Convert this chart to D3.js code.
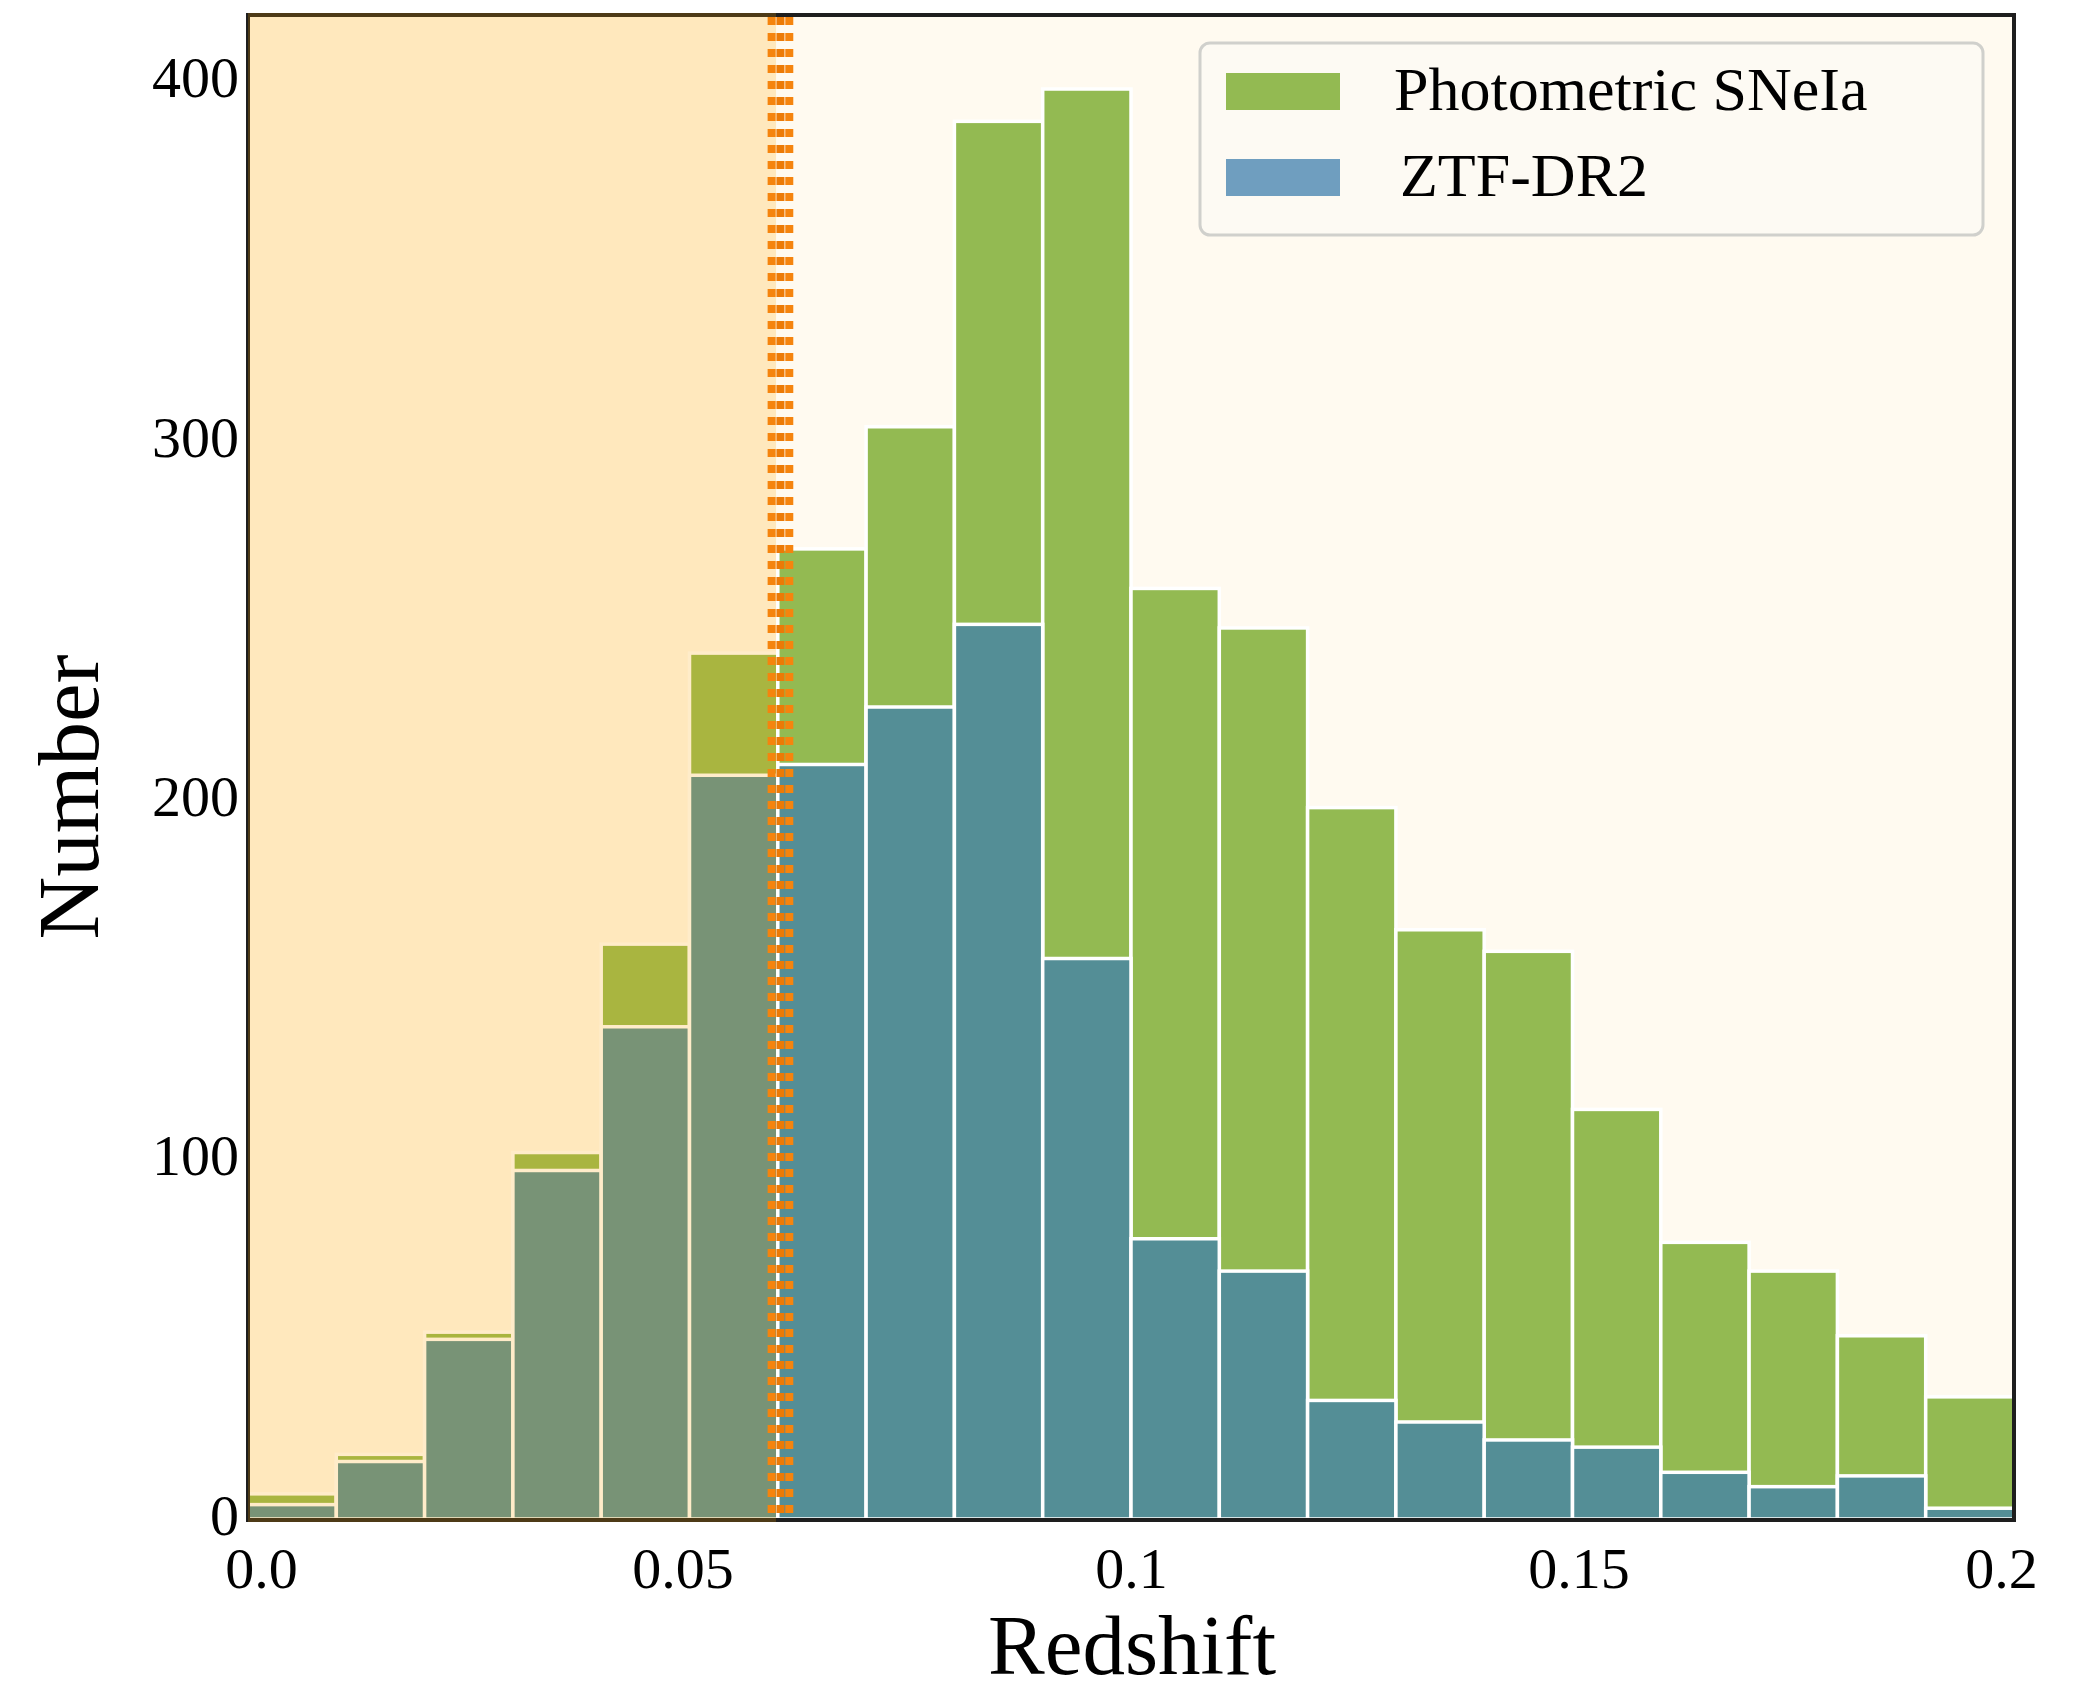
<!DOCTYPE html>
<html>
<head>
<meta charset="utf-8">
<script src="https://cdn.jsdelivr.net/npm/d3@7"></script>
<style>
  html, body { margin: 0; padding: 0; background: #ffffff; }
  svg { display: block; }
</style>
</head>
<body>
<svg id="chart" width="2095" height="1692"></svg>
<script>
// ---- data ----
const binEdges = [0.00,0.01,0.02,0.03,0.04,0.05,0.06,0.07,0.08,0.09,0.10,0.11,0.12,0.13,0.14,0.15,0.16,0.17,0.18,0.19,0.20];
const photometricCounts = [7,18,52,102,160,241,270,304,389,398,259,248,198,164,158,114,77,69,51,34];
const ztfCounts = [4,16,50,97,137,207,210,226,249,156,78,69,33,27,22,20,13,9,12,3];
const seriesNames = ["Photometric SNeIa", "ZTF-DR2"];
const xTickValues = [0, 0.05, 0.1, 0.15, 0.2];
const xTickLabels = ["0.0", "0.05", "0.1", "0.15", "0.2"];
const yTickValues = [0, 100, 200, 300, 400];
const bandRange = [0, 0.0598];
const cutLines = [0.0593, 0.0603, 0.0613];

// ---- layout ----
const svg = d3.select("#chart");
const L = 248, R = 2014, T = 15, B = 1519;
const x = d3.scaleLinear().domain([0, 0.2]).range([L, R]);
const y = d3.scaleLinear().domain([0, 418.6]).range([B, T]);
const font = "'Liberation Serif', 'Times New Roman', serif";

const colGreen = "#93ba52", colBlue = "#548e96", colBlueLegend = "#6f9ebf";

svg.append("defs").append("clipPath").attr("id", "plotclip")
  .append("rect").attr("x", L).attr("y", T).attr("width", R - L).attr("height", B - T);

// background
svg.append("rect").attr("x", L).attr("y", T).attr("width", R - L).attr("height", B - T)
  .attr("fill", "#fffaf0");

const g = svg.append("g").attr("clip-path", "url(#plotclip)");

const bins = photometricCounts.map((v, i) => ({x0: binEdges[i], x1: binEdges[i + 1], g: v, b: ztfCounts[i]}));

g.selectAll("rect.green").data(bins).join("rect").attr("class", "green")
  .attr("x", d => x(d.x0)).attr("width", d => x(d.x1) - x(d.x0))
  .attr("y", d => y(d.g)).attr("height", d => y(0) - y(d.g))
  .attr("fill", colGreen).attr("stroke", "#ffffff").attr("stroke-width", 3.5);

g.selectAll("rect.blue").data(bins).join("rect").attr("class", "blue")
  .attr("x", d => x(d.x0)).attr("width", d => x(d.x1) - x(d.x0))
  .attr("y", d => y(d.b)).attr("height", d => y(0) - y(d.b))
  .attr("fill", colBlue).attr("stroke", "#ffffff").attr("stroke-width", 3.5);

// frame
svg.append("rect").attr("x", L).attr("y", T).attr("width", R - L).attr("height", B + 1 - T)
  .attr("fill", "none").attr("stroke", "#1e1e1e").attr("stroke-width", 4);

// orange band (overlay)
svg.append("rect").attr("x", x(bandRange[0])).attr("y", T - 2)
  .attr("width", x(bandRange[1]) - x(bandRange[0])).attr("height", B - T + 5)
  .attr("fill", "#ffa500").attr("fill-opacity", 0.21);

// dotted cut lines
svg.selectAll("line.cut").data(cutLines).join("line").attr("class", "cut")
  .attr("x1", d => x(d)).attr("x2", d => x(d))
  .attr("y1", T + 2).attr("y2", B)
  .attr("stroke", (d, i) => i === 1 ? "#ec7a06" : "#f5840e")
  .attr("stroke-width", 8).attr("stroke-dasharray", "8 8");

// axes
const xLabelNudge = [13, -7, 0, 6, -13];
const xAxis = d3.axisBottom(x).tickValues(xTickValues).tickSize(0).tickPadding(28)
  .tickFormat((d, i) => xTickLabels[i]);
const gx = svg.append("g").attr("transform", `translate(0,${B})`).call(xAxis);
gx.select(".domain").remove();
gx.selectAll("text").attr("font-family", font).attr("font-size", 58).attr("fill", "#000")
  .attr("dx", (d, i) => xLabelNudge[i]);

const yAxis = d3.axisLeft(y).tickValues(yTickValues).tickSize(0).tickPadding(9)
  .tickFormat(d3.format("d"));
const gy = svg.append("g").attr("transform", `translate(${L},0)`).call(yAxis);
gy.select(".domain").remove();
gy.selectAll("text").attr("font-family", font).attr("font-size", 58).attr("fill", "#000")
  .attr("dy", "0.26em");

// axis titles
svg.append("text").attr("x", 1132).attr("y", 1674).attr("text-anchor", "middle")
  .attr("font-family", font).attr("font-size", 85).attr("fill", "#000").text("Redshift");
svg.append("text").attr("transform", "translate(98,797) rotate(-90)").attr("text-anchor", "middle")
  .attr("font-family", font).attr("font-size", 87).attr("fill", "#000").text("Number");

// legend
const lg = svg.append("g");
lg.append("rect").attr("x", 1200).attr("y", 43).attr("width", 783).attr("height", 192)
  .attr("rx", 10).attr("fill", "#fdfaf3").attr("stroke", "#d0d0cc").attr("stroke-width", 3);
const legendItems = [
  {name: seriesNames[0], color: colGreen, y: 73, tx: 1394, base: 110},
  {name: seriesNames[1], color: colBlueLegend, y: 159, tx: 1400, base: 196}
];
legendItems.forEach(it => {
  lg.append("rect").attr("x", 1226).attr("y", it.y).attr("width", 114).attr("height", 37).attr("fill", it.color);
  lg.append("text").attr("x", it.tx).attr("y", it.base)
    .attr("font-family", font).attr("font-size", 62).attr("fill", "#000").text(it.name);
});
</script>
</body>
</html>
